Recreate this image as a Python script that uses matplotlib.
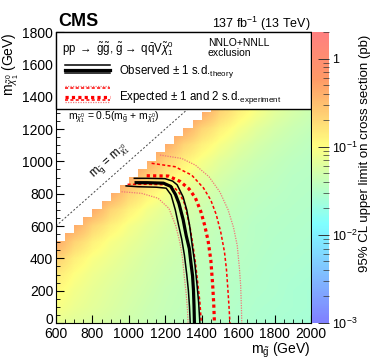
import numpy as np
import matplotlib
matplotlib.use('Agg')
import matplotlib.pyplot as plt
import matplotlib.transforms as mtransforms
from matplotlib.colors import LinearSegmentedColormap, LogNorm
from matplotlib.patches import Rectangle

plt.rcParams['font.family'] = 'Liberation Sans'
plt.rcParams['mathtext.fontset'] = 'custom'
plt.rcParams['mathtext.rm'] = 'Liberation Sans'
plt.rcParams['mathtext.it'] = 'Liberation Sans:italic'
plt.rcParams['mathtext.bf'] = 'Liberation Sans:bold'

# grid of the limit map (GeV)
m_gluino = [600, 700, 800, 900, 1000, 1100, 1200, 1300, 1400, 1500, 1600, 1700, 1800, 1900, 2000]
m_lsp = [0, 100, 200, 300, 400, 500, 600, 700, 800, 900, 1000, 1100, 1200, 1300]

# 95% CL upper limit on cross section (pb), rows = m_lsp, cols = m_gluino
xsec_limit = [
    [.070, .064, .058, .053, .048, .044, .040, .037, .034, .032, .030, .028, .027, .026, .025],
    [.095, .077, .067, .059, .052, .046, .042, .039, .036, .033, .031, .029, .028, .027, .026],
    [.112, .086, .072, .062, .055, .049, .043, .040, .037, .034, .032, .030, .029, .027, .026],
    [.147, .102, .080, .068, .059, .052, .046, .042, .038, .035, .033, .031, .029, .028, .027],
    [.224, .134, .095, .078, .065, .055, .049, .044, .039, .036, .034, .032, .030, .029, .028],
    [.420, .215, .130, .092, .075, .062, .053, .047, .042, .037, .035, .033, .031, .030, .029],
    [.600, .420, .210, .130, .090, .070, .058, .049, .044, .039, .036, .033, .032, .031, .030],
    [.600, .600, .420, .210, .130, .088, .068, .056, .047, .041, .038, .035, .033, .032, .031],
    [.600, .600, .600, .420, .210, .130, .090, .067, .055, .046, .040, .037, .035, .033, .032],
    [.600, .600, .600, .600, .420, .210, .130, .090, .068, .054, .045, .040, .037, .034, .033],
    [.600, .600, .600, .600, .600, .420, .210, .130, .090, .066, .053, .045, .040, .036, .034],
    [.600, .600, .600, .600, .600, .600, .420, .210, .130, .090, .066, .053, .045, .040, .036],
    [.600, .600, .600, .600, .600, .600, .600, .420, .210, .130, .090, .066, .053, .045, .040],
    [.600, .600, .600, .600, .600, .600, .600, .600, .420, .210, .130, .090, .066, .053, .045],
]

# upper edge of the scanned region (left edge of each column, top m_lsp)
scan_mg = [600, 650, 700, 750, 800, 850, 900, 950, 1000, 1050, 1100, 1150, 1200, 1250, 1300,
           1350, 1400, 1450, 1500, 1550, 1600, 1650, 1700, 1750, 1800, 1850, 1900, 1950, 2000]
scan_top = [505, 555, 605, 655, 705, 755, 805, 855, 905, 955, 1005, 1055, 1105, 1155, 1205,
            1255, 1305, 1355, 1405, 1455, 1505, 1555, 1605, 1655, 1705, 1755, 1800, 1800, 1800]

# exclusion contours (m_gluino, m_lsp)
obs_mg = [1040, 1100, 1190, 1230, 1256, 1275, 1298, 1315, 1332, 1340, 1350, 1355, 1358, 1360]
obs_lsp = [868, 868, 865, 845, 795, 740, 640, 540, 460, 380, 290, 200, 100, 0]
obs_p1_mg = [1030, 1100, 1198, 1240, 1265, 1298, 1318, 1334, 1348, 1362, 1374, 1383, 1390]
obs_p1_lsp = [895, 895, 893, 878, 855, 780, 700, 600, 480, 370, 240, 130, 0]
obs_m1_mg = [985, 1050, 1150, 1205, 1232, 1255, 1274, 1290, 1305, 1318, 1327, 1333, 1337]
obs_m1_lsp = [848, 843, 840, 834, 792, 700, 600, 520, 420, 300, 200, 100, 0]

exp_mg = [1098, 1217, 1281, 1330, 1365, 1395, 1415, 1435, 1450, 1460, 1466, 1470]
exp_lsp = [911, 909, 876, 830, 775, 690, 610, 510, 390, 240, 120, 0]
exp_p1_mg = [1125, 1253, 1345, 1410, 1450, 1480, 1505, 1525, 1536, 1543, 1550, 1555]
exp_p1_lsp = [988, 967, 915, 835, 760, 670, 560, 440, 330, 220, 100, 0]
exp_m1_mg = [993, 1100, 1200, 1250, 1280, 1305, 1322, 1338, 1352, 1366, 1378, 1390, 1398]
exp_m1_lsp = [858, 858, 855, 838, 800, 740, 660, 580, 480, 370, 250, 130, 0]
exp_p2_mg = [1171, 1290, 1365, 1440, 1500, 1545, 1575, 1595, 1607, 1614, 1618, 1620]
exp_p2_lsp = [1039, 1018, 977, 905, 810, 700, 590, 480, 340, 230, 100, 0]
exp_m2_mg = [960, 1070, 1160, 1220, 1258, 1280, 1295, 1305, 1315, 1322, 1325]
exp_m2_lsp = [812, 802, 772, 709, 600, 500, 400, 280, 180, 80, 0]

cbar_ticks = [1e-3, 1e-2, 1e-1, 1]
cbar_labels = ['$10^{-3}$', '$10^{-2}$', '$10^{-1}$', '1']

# ROOT-like palette
cmap = LinearSegmentedColormap.from_list('susy', [
    (0.00, (0.5, 0.5, 1.0)),
    (0.34, (0.5, 1.0, 1.0)),
    (0.61, (1.0, 1.0, 0.5)),
    (0.84, (1.0, 0.6, 0.4)),
    (1.00, (1.0, 0.5, 0.5))])

fig = plt.figure(figsize=(3.74, 3.63), dpi=100)
ax = fig.add_axes([0.1497, 0.1102, 0.6818, 0.8016])
cax = fig.add_axes([0.8342, 0.1102, 0.0455, 0.8016])

dx = m_gluino[1] - m_gluino[0]
dy = m_lsp[1] - m_lsp[0]
im = ax.imshow(np.array(xsec_limit), origin='lower', aspect='auto', cmap=cmap,
               norm=LogNorm(vmin=1e-3, vmax=2.0), interpolation='bilinear',
               extent=[m_gluino[0] - dx / 2, m_gluino[-1] + dx / 2,
                       m_lsp[0] - dy / 2, m_lsp[-1] + dy / 2], zorder=0)
ax.fill_between(scan_mg, scan_top, 1800, step='post', color='white', lw=0, zorder=1)

# kinematic diagonal
ax.plot([600, 1800], [600, 1800], color='#444444', lw=0.7, ls=(0, (2, 2)), zorder=2)
ax.text(897, 995, r'$\mathrm{m}_{\tilde{\mathrm{g}}}$ = $\mathrm{m}_{\tilde{\chi}^{0}_{1}}$', rotation=41.6,
        ha='center', va='center', fontsize=8.3, zorder=2)
ax.text(666, 1274, r'$\mathrm{m}_{\tilde{\chi}^{0}_{1}}$ = 0.5($\mathrm{m}_{\tilde{\mathrm{g}}}$ + $\mathrm{m}_{\tilde{\chi}^{0}_{1}}$)',
        ha='left', va='center', fontsize=7.5, zorder=2)

pale = '#f07878'
ax.plot(exp_p2_mg, exp_p2_lsp, color=pale, lw=0.9, ls=(0, (1, 1)), zorder=3)
ax.plot(exp_m2_mg, exp_m2_lsp, color=pale, lw=0.9, ls=(0, (1, 1)), zorder=3)
ax.plot(exp_p1_mg, exp_p1_lsp, color='red', lw=1.1, ls=(0, (2, 1.5)), zorder=3)
ax.plot(exp_m1_mg, exp_m1_lsp, color='red', lw=1.1, ls=(0, (2, 1.5)), zorder=3)
ax.plot(exp_mg, exp_lsp, color='red', lw=2.3, ls=(0, (1, 1)), zorder=3)
ax.plot(obs_p1_mg, obs_p1_lsp, color='black', lw=1.1, zorder=4)
ax.plot(obs_m1_mg, obs_m1_lsp, color='black', lw=1.1, zorder=4)
ax.plot(obs_mg, obs_lsp, color='black', lw=2.3, zorder=4)

ax.set_xlim(600, 2000)
ax.set_ylim(0, 1800)
ax.set_xticks(range(600, 2001, 200))
ax.set_yticks(range(0, 1801, 200))
ax.set_xticks(range(600, 2001, 50), minor=True)
ax.set_yticks(range(0, 1801, 50), minor=True)
ax.tick_params(which='both', direction='in', labelsize=10, top=False, right=False)
ax.tick_params(which='major', length=6, width=0.8)
ax.tick_params(which='minor', length=3, width=0.6)
ax.tick_params(axis='y', pad=2)
ax.tick_params(axis='x', pad=3)
# ROOT lifts the "0" label a bit off the corner
fig.canvas.draw()
zero_lbl = ax.get_yticklabels()[0]
zero_lbl.set_transform(zero_lbl.get_transform() +
                       mtransforms.ScaledTranslation(0, 3.5 / 72, fig.dpi_scale_trans))

# legend box
ax.add_patch(Rectangle((0, 0.735), 1, 0.265, transform=ax.transAxes, facecolor='white',
                       edgecolor='black', lw=1.0, zorder=5, clip_on=False))
ax.text(0.024, 0.944, r'pp $\rightarrow$ $\tilde{\mathrm{g}}\tilde{\mathrm{g}}$, $\tilde{\mathrm{g}}\rightarrow$ $\mathrm{q\bar{q}V}\tilde{\chi}^{0}_{1}$',
        transform=ax.transAxes, fontsize=8.3, va='center', zorder=6)
ax.text(0.596, 0.963, 'NNLO+NNLL', transform=ax.transAxes, fontsize=7.5, va='center', zorder=6)
ax.text(0.596, 0.927, 'exclusion', transform=ax.transAxes, fontsize=7.5, va='center', zorder=6)
lx = [0.035, 0.212]
ax.plot(lx, [0.887, 0.887], color='black', lw=1.1, transform=ax.transAxes, zorder=6)
ax.plot(lx, [0.871, 0.871], color='black', lw=2.3, transform=ax.transAxes, zorder=6)
ax.plot(lx, [0.859, 0.859], color='black', lw=1.1, transform=ax.transAxes, zorder=6)
ax.plot(lx, [0.815, 0.815], color=pale, lw=0.9, ls=(0, (1, 1)), transform=ax.transAxes, zorder=6)
ax.plot(lx, [0.806, 0.806], color='red', lw=1.1, ls=(0, (2, 1.5)), transform=ax.transAxes, zorder=6)
ax.plot(lx, [0.778, 0.778], color='red', lw=2.3, ls=(0, (1, 1)), transform=ax.transAxes, zorder=6)
ax.plot(lx, [0.768, 0.768], color='red', lw=1.1, ls=(0, (2, 1.5)), transform=ax.transAxes, zorder=6)
ax.plot(lx, [0.760, 0.760], color=pale, lw=0.9, ls=(0, (1, 1)), transform=ax.transAxes, zorder=6)
ax.text(0.247, 0.865, r'Observed $\pm$ 1 s.d.$_{\mathrm{theory}}$', transform=ax.transAxes,
        fontsize=8.3, va='center', zorder=6)
ax.text(0.247, 0.776, r'Expected $\pm$ 1 and 2 s.d.$_{\mathrm{experiment}}$', transform=ax.transAxes,
        fontsize=8.3, va='center', zorder=6)

# colour bar
cb = fig.colorbar(im, cax=cax)
cb.outline.set_linewidth(0)
cb.set_ticks(cbar_ticks)
cb.set_ticklabels(cbar_labels)
cax.tick_params(which='both', direction='in', labelsize=9, pad=2, color='#333333')
cax.tick_params(which='major', length=8, width=0.7)
cax.tick_params(which='minor', length=4, width=0.5)

fig.text(0.155, 0.94, 'CMS', fontsize=13, fontweight='bold', ha='left', va='center')
fig.text(0.8316, 0.934, r'137 fb$^{-1}$ (13 TeV)', fontsize=9, ha='right', va='center')
fig.text(0.03, 0.912, r'$\mathrm{m}_{\tilde{\chi}^{0}_{1}}$ (GeV)', rotation=90, fontsize=10,
         ha='center', va='top')
fig.text(0.8316, 0.036, r'$\mathrm{m}_{\tilde{\mathrm{g}}}$ (GeV)', fontsize=10, ha='right', va='center')
fig.text(0.976, 0.905, '95% CL upper limit on cross section (pb)', rotation=90, fontsize=9.5,
         ha='center', va='top')

fig.savefig('out.png', dpi=100)
